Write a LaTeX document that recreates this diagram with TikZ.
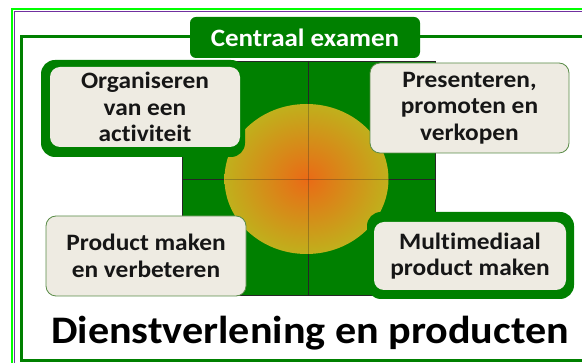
\documentclass[tikz,border=0pt]{standalone}
\usepackage{fontspec}
\setmainfont{Carlito}[FakeStretch=1.08, Ligatures=NoCommon]
\definecolor{dkgreen}{RGB}{0,128,0}
\definecolor{brgreen}{RGB}{0,255,0}
\definecolor{brdpurple}{RGB}{112,48,160}
\definecolor{boxfill}{RGB}{238,235,226}
\definecolor{boxline}{RGB}{90,140,72}
\definecolor{circin}{RGB}{234,106,22}
\definecolor{circout}{RGB}{192,176,28}
\definecolor{txt}{RGB}{22,22,22}
\tikzset{
  lightbox/.style={fill=boxfill, rounded corners=10pt, align=center, text=txt,
    font=\fontsize{23.5}{26.5}\selectfont\bfseries, inner sep=0pt},
  thinline/.style={draw=boxline, line width=0.8pt},
  divider/.style={draw=black!85, line width=0.7pt}
}
\begin{document}
\begin{tikzpicture}[x=1pt,y=-1pt]
\useasboundingbox (0,0) rectangle (582,363);
\clip (0,0) rectangle (582,363);
\fill[white] (0,0) rectangle (582,363);
% outer borders
\draw[brgreen, line width=2.6pt] (12,9.2) rectangle (620,390);
\draw[brdpurple, line width=1.2pt] (14.6,11.6) rectangle (620,390);
% frame
\draw[dkgreen, line width=3pt] (21.5,36.5) rectangle (620,361);
% central square
\fill[dkgreen] (182,61) rectangle (435,295);
\draw[divider] (182,61) rectangle (435,295);
\draw[divider] (308,61) -- (308,295);
\draw[divider] (182,179) -- (435,179);
% circle
\shade[shading=radial, inner color=circin, outer color=circout] (306.5,179) ellipse [x radius=82pt, y radius=75pt];
\begin{scope}
\clip (306.5,179) ellipse [x radius=82pt, y radius=75pt];
\draw[divider, draw opacity=0.3] (308,61) -- (308,295);
\draw[divider, draw opacity=0.3] (182,179) -- (435,179);
\end{scope}
% boxes
\fill[dkgreen, rounded corners=14pt] (41,60) rectangle (245,157);
\node[lightbox, minimum width=190pt, minimum height=80pt] (tl) at (145,107) {Organiseren\\van een\\activiteit};
\node[lightbox, thinline, minimum width=199pt, minimum height=90pt] (tr) at (469.5,108) {Presenteren,\\promoten en\\verkopen};
\node[lightbox, thinline, minimum width=200pt, minimum height=80pt] (bl) at (146,256) {Product maken\\en verbeteren};
\fill[dkgreen, rounded corners=14pt] (367,212) rectangle (574,299);
\node[lightbox, minimum width=192pt, minimum height=68pt] (br) at (470,256) {Multimediaal\\product maken};
% tab
\node[fill=dkgreen, rounded corners=6pt, text=white, minimum width=230pt, minimum height=41pt, inner sep=0pt,
  font=\fontsize{25}{28}\selectfont\bfseries] (tab) at (305,37.5) {Centraal examen};
% title
\node[anchor=base, inner sep=0pt, text=black, font=\fontsize{39}{46}\selectfont\bfseries] (title) at (310,344) {Dienstverlening en producten};
\end{tikzpicture}
\end{document}
